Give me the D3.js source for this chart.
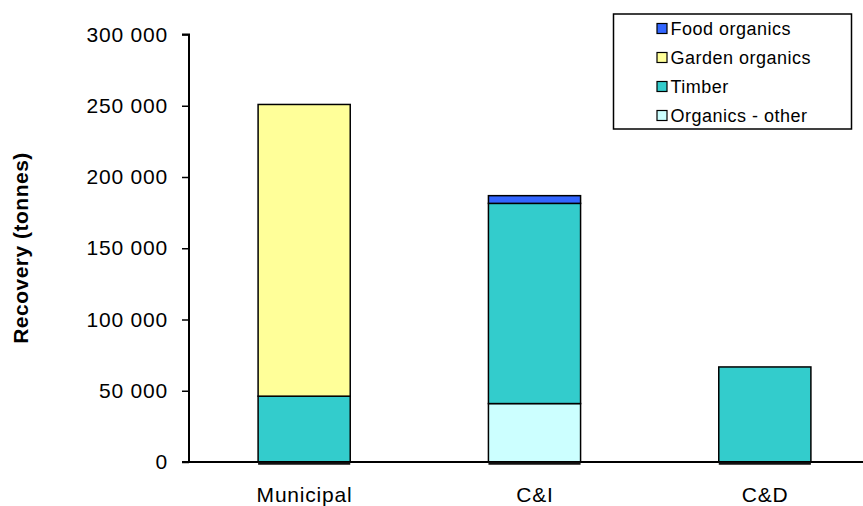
<!DOCTYPE html>
<html><head><meta charset="utf-8">
<script src="https://cdn.jsdelivr.net/npm/d3@7"></script>
<style>body{margin:0;background:#fff}svg{display:block;font-family:"Liberation Sans",Arial,sans-serif}</style>
</head><body>
<svg id="c" width="863" height="506"></svg>
<script>
const categories = ["Municipal", "C&I", "C&D"];
const seriesNames = ["Organics - other", "Timber", "Garden organics", "Food organics"];
const organicsOther = [0, 41000, 0];
const timber = [46200, 140500, 66700];
const gardenOrganics = [204700, 0, 0];
const foodOrganics = [0, 5400, 0];
const colors = ["#CCFFFF", "#33CCCC", "#FFFF99", "#3366FF"];
const yTicks = [0, 50000, 100000, 150000, 200000, 250000, 300000];
const legendOrder = ["Food organics", "Garden organics", "Timber", "Organics - other"];

const rows = categories.map((c, i) => ({
  cat: c,
  "Organics - other": organicsOther[i],
  "Timber": timber[i],
  "Garden organics": gardenOrganics[i],
  "Food organics": foodOrganics[i]
}));
const stacked = d3.stack().keys(seriesNames)(rows);
const color = d3.scaleOrdinal().domain(seriesNames).range(colors);

const svg = d3.select("#c");
const x = d3.scaleBand().domain(categories).range([189, 880]).paddingInner(0.6).paddingOuter(0.3);
const y = d3.scaleLinear().domain([0, 300000]).range([462, 34.5]);

const fmt = v => d3.format(",")(v).replace(/,/g, " ");

// y axis
const yAxis = svg.append("g").attr("transform", "translate(189,0)")
  .call(d3.axisLeft(y).tickValues(yTicks).tickFormat(fmt).tickSize(7).tickPadding(14));
yAxis.select(".domain").attr("stroke", "#000").attr("stroke-width", 2).attr("d", `M-7,${y(300000)}H0V${y(0)}`);
yAxis.selectAll(".tick line").attr("stroke", "#000").attr("stroke-width", 1.5);
yAxis.selectAll("text").attr("font-size", 21).attr("letter-spacing", 0.8).attr("fill", "#000")
  .attr("font-family", "Liberation Sans, Arial, sans-serif");

// bars
svg.append("g").selectAll("g").data(stacked).join("g")
  .attr("fill", d => color(d.key))
  .selectAll("rect").data(d => d.filter(s => s[1] - s[0] > 0)).join("rect")
  .attr("x", d => x(d.data.cat))
  .attr("width", x.bandwidth())
  .attr("y", d => y(d[1]))
  .attr("height", d => y(d[0]) - y(d[1]))
  .attr("stroke", "#000").attr("stroke-width", 1.5);

// x axis baseline
svg.append("line").attr("x1", 182).attr("x2", 863).attr("y1", y(0)).attr("y2", y(0))
  .attr("stroke", "#000").attr("stroke-width", 2);
// bottom thick edges of bars
svg.append("g").selectAll("line").data(categories).join("line")
  .attr("x1", d => x(d)).attr("x2", d => x(d) + x.bandwidth())
  .attr("y1", y(0) + 1.5).attr("y2", y(0) + 1.5)
  .attr("stroke", "#111").attr("stroke-width", 2.5);

// category labels
svg.append("g").selectAll("text").data(categories).join("text")
  .attr("x", d => x(d) + x.bandwidth() / 2 + 0.4).attr("y", 502)
  .attr("text-anchor", "middle").attr("font-size", 21).attr("letter-spacing", 0.8).attr("fill", "#000")
  .text(d => d);

// y title
svg.append("text").attr("transform", "translate(28,248) rotate(-90)")
  .attr("text-anchor", "middle").attr("font-size", 21).attr("font-weight", "bold").attr("letter-spacing", 0.5)
  .text("Recovery (tonnes)");

// legend
const lg = svg.append("g");
lg.append("rect").attr("x", 613.5).attr("y", 14).attr("width", 238).attr("height", 115)
  .attr("fill", "#fff").attr("stroke", "#000").attr("stroke-width", 1.5);
const li = lg.selectAll("g.item").data(legendOrder).join("g").attr("class", "item")
  .attr("transform", (d, i) => `translate(657,${28.5 + i * 29})`);
li.append("rect").attr("x", 0).attr("y", -5).attr("width", 10).attr("height", 10)
  .attr("fill", d => color(d)).attr("stroke", "#000").attr("stroke-width", 1.2);
li.append("text").attr("x", 13.5).attr("y", 6.5).attr("font-size", 18).attr("letter-spacing", 0.5).attr("fill", "#000").text(d => d);
</script>
</body></html>
